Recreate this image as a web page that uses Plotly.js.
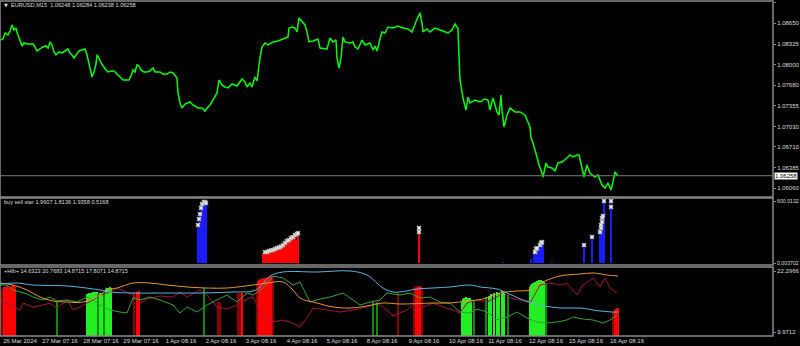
<!DOCTYPE html>
<html><head><meta charset="utf-8">
<script src="https://cdn.plot.ly/plotly-3.0.1.min.js"></script>
<style>html,body{margin:0;padding:0;background:#000;}#chart{width:800px;height:346px;}</style>
</head><body><div id="chart"></div>
<script>
// ---------- main price (EURUSD M15, close line) ----------
const priceX = [0,3,5,8,10,12,14,16,17,19,21,22,24,27,30,33,35,37,40,43,46,48,50,52,54,56,59,62,65,68,70,72,74,76,79,82,85,87,89,91,92,94,96,97,99,101,103,106,108,111,114,117,120,123,126,129,131,133,135,137,139,141,144,147,150,153,155,158,
160,163,167,170,173,177,178,180,182,185,190,193,198,202,205,208,210,213,217,219,222,225,228,232,237,242,245,247,250,252,255,257,258,260,262,265,268,273,278,283,288,289,292,295,297,299,302,305,307,309,313,318,320,
327,330,333,336,337,339,341,343,345,350,353,355,358,362,365,370,373,375,377,380,382,385,388,393,398,403,408,412,415,417,420,422,423,427,430,435,440,445,448,452,455,457,
458,459,460,462,463,466,468,470,475,480,485,488,490,493,497,499,501,502,504,507,510,515,520,525,527,530,531,533,537,539,542,543,546,548,552,555,558,562,567,570,573,577,579,582,584,587,590,595,598,602,605,608,611,613,615,617,618];
const price = [1.08389,1.08405,1.08499,1.08468,1.08530,1.08625,1.08546,1.08577,1.08515,1.08420,1.08326,1.08295,1.08342,1.08326,1.08326,1.08326,1.08279,1.08216,1.08248,1.08279,1.08295,1.08263,1.08358,1.08311,1.08201,1.08154,1.08201,1.08185,1.08216,1.08248,1.08185,1.08154,1.08106,1.08154,1.08216,1.08232,1.08248,1.08154,1.08012,1.07918,1.07808,1.07887,1.08012,1.08154,1.08106,1.08028,1.07981,1.07918,1.07887,1.07902,1.07902,1.07855,1.07792,1.07761,1.07761,1.07761,1.07824,1.07918,1.07887,1.07997,1.07981,1.07918,1.07887,1.07887,1.07902,1.07949,1.07887,1.07887,
1.07887,1.07855,1.07855,1.07887,1.07871,1.07792,1.07557,1.07400,1.07321,1.07384,1.07416,1.07369,1.07321,1.07321,1.07274,1.07337,1.07369,1.07447,1.07557,1.07761,1.07683,1.07651,1.07635,1.07698,1.07667,1.07777,1.07730,1.07651,1.07714,1.07651,1.07808,1.07745,1.07887,1.08106,1.08279,1.08342,1.08311,1.08358,1.08373,1.08405,1.08436,1.08577,1.08593,1.08577,1.08515,1.08734,1.08672,1.08625,1.08515,1.08358,1.08373,1.08405,1.08263,
1.08248,1.08420,1.08358,1.08389,1.08106,1.07949,1.08106,1.08436,1.08358,1.08342,1.08358,1.08279,1.08248,1.08389,1.08311,1.08342,1.08232,1.08295,1.08216,1.08405,1.08515,1.08499,1.08593,1.08577,1.08609,1.08577,1.08562,1.08515,1.08656,1.08719,1.08813,1.08656,1.08515,1.08562,1.08515,1.08577,1.08546,1.08515,1.08499,1.08546,1.08640,1.08593,
1.08577,1.08122,1.07761,1.07573,1.07478,1.07290,1.07494,1.07400,1.07447,1.07416,1.07463,1.07447,1.07290,1.07478,1.07259,1.07212,1.07526,1.07290,1.07023,1.07212,1.07321,1.07259,1.07259,1.07212,1.07133,1.07023,1.06850,1.06772,1.06552,1.06427,1.06301,1.06238,1.06458,1.06395,1.06379,1.06332,1.06458,1.06474,1.06536,1.06584,1.06552,1.06584,1.06584,1.06395,1.06238,1.06427,1.06301,1.06238,1.06270,1.06113,1.06065,1.06144,1.06034,1.06160,1.06317,1.06270,1.06258];
const priceTicks = [1.08975,1.08650,1.08325,1.08000,1.07680,1.07355,1.07030,1.06710,1.06385,1.06060];
const priceTickText = ["1.08975","1.08650","1.08325","1.08000","1.07680","1.07355","1.07030","1.06710","1.06385","1.06060"];
const headerText = "EURUSD,M15  1.06248 1.06284 1.06238 1.06258";

// ---------- sub window 1: buy sell star ----------
const starBlueX = [198,199,200,201,202,204,205,206,503,531,534,535,536,537,539,540,541,542,543,552,584,592,600,601,602,603,604,611];
const starBlueVal = [368,436,484,542,581,590,590,590,10,39,126,116,126,136,184,194,194,194,194,10,174,252,300,358,416,455,600,600];
const starRedX = [263,265,267,269,271,273,275,277,279,281,283,285,287,289,291,293,295,297,298,419];
const starRedVal = [97,106,106,116,116,126,136,145,155,165,184,194,213,232,242,261,281,223,290,339];
const starMarkX = [198,199,200,201,202,204,205,206,265,267,269,271,273,275,277,279,281,283,285,287,289,291,293,295,297,298,419,419,535,536,537,540,541,542,584,592,600,601,601,602,602,603,604,611,611];
const starMarkVal = [368,426,474,533,571,590,590,580,106,106,116,121,126,136,145,150,160,174,194,213,223,242,252,271,281,290,339,300,106,136,145,174,194,203,174,252,300,339,368,397,436,455,600,600,542];
const starTitle = "buy sell star 1.9607 1.8136 1.9358 0.5168";
const starTicks = [600.0132, 0];
const starTickText = ["600.0132", "0.003702"];

// ---------- sub window 2: +Hlb+ ----------
const histRedX = [3,4,5,6,7,8,9,10,11,12,13,14,15,137,138,139,242,258,259,260,261,262,263,264,265,266,267,268,269,270,271,272,415,416,418,419,420,421,615,616,617,618];
const histRedVal = [18.66,19.07,18.86,19.07,19.27,19.07,18.86,18.86,19.07,19.27,19.47,19.27,19.07,18.06,18.06,18.26,17.85,20.28,20.48,20.48,20.68,20.68,20.68,20.88,20.88,20.68,20.88,21.09,21.09,21.29,21.09,21.29,18.86,19.07,19.07,19.27,19.07,19.07,14.42,14.62,14.82,14.82];
const histDarkRedX = [2,134,218,220,238,240,257,273,398,414,422,613];
const histDarkRedVal = [18.46,18.06,16.03,16.03,17.85,17.85,19.87,21.09,17.85,18.86,18.66,14.01];
const histGreenX = [87,88,89,90,91,92,93,94,95,96,97,100,101,102,103,106,107,108,109,110,111,462,463,464,465,466,467,468,469,470,471,489,491,494,497,499,502,504,530,531,532,533,534,535,536,537,538,539,540,541,542,543,544,545];
const histGreenVal = [17.65,17.65,17.85,17.85,17.85,17.85,18.06,18.06,18.06,18.06,18.06,17.85,17.85,17.85,17.85,18.66,18.86,18.86,18.86,19.07,18.86,16.03,16.64,16.84,16.84,17.04,16.84,16.84,16.64,16.84,16.44,17.25,17.65,17.85,18.06,17.85,18.26,18.06,19.07,19.47,19.67,19.87,19.87,20.08,20.08,20.28,20.28,20.48,20.48,20.48,20.28,20.28,20.08,19.87];
const histDarkGreenX = [57,98,104,204,373,377,474,486,508,546];
const histDarkGreenVal = [16.03,17.65,17.85,18.86,16.03,16.03,16.44,17.04,17.45,19.67];

const blueLineX = [0,17,33,67,100,110,133,167,200,233,253,260,270,283,317,350,367,383,393,400,417,433,450,470,480,497,507,523,540,560,580,600,613,618];
const blueLineVal = [19.67,19.87,19.47,19.27,18.46,18.06,17.85,17.85,17.85,18.06,18.26,19.07,21.29,22.10,22.10,22.30,21.49,18.86,18.06,18.06,18.66,18.86,19.07,19.47,19.07,18.66,17.85,16.44,15.43,14.82,14.82,14.22,14.01,14.01];
const orangeLineX = [0,13,27,40,53,67,83,100,107,117,133,150,167,187,207,227,253,267,283,293,300,317,333,350,367,383,400,433,450,467,483,500,517,530,543,560,580,593,607,618];
const orangeLineVal = [19.87,19.47,18.46,17.04,16.24,16.03,16.03,17.45,18.46,18.86,19.87,19.87,19.47,19.07,18.86,18.86,19.47,19.87,20.08,18.46,16.84,15.83,15.02,14.82,15.23,15.83,15.63,15.83,15.83,16.24,16.64,17.85,18.26,18.46,20.08,21.29,21.69,21.90,21.49,21.29];
const plusLineX = [0,7,13,20,27,33,43,50,57,67,77,87,93,100,110,120,127,133,140,150,160,173,180,187,197,207,217,227,237,247,253,263,273,283,293,300,310,320,330,343,353,360,370,380,387,400,410,420,430,440,450,460,470,477,487,497,507,517,527,537,547,557,567,573,583,593,603,610,617];
const plusLineVal = [19.47,19.47,18.46,18.06,17.65,17.04,16.44,17.04,16.24,16.44,16.03,17.04,16.44,15.43,14.42,14.01,13.81,16.84,16.44,17.04,16.44,15.43,13.81,15.02,14.01,15.43,16.44,17.45,16.03,17.85,17.45,18.86,21.29,20.88,19.47,20.08,16.03,16.64,17.04,17.85,16.44,15.43,16.03,16.44,17.85,17.45,17.85,16.84,17.04,16.03,15.83,14.01,13.81,14.62,14.01,12.40,13.00,14.01,12.80,11.99,11.79,11.99,12.40,13.00,12.60,12.40,11.79,12.40,13.41];
const minusLineX = [0,10,20,23,33,43,50,57,67,73,80,87,93,100,110,117,127,133,140,147,160,173,180,187,200,207,217,227,237,247,253,263,273,283,293,300,307,313,327,340,353,367,377,387,393,400,407,413,423,433,443,453,460,467,477,487,497,503,510,520,530,540,550,560,567,577,583,593,600,605,610,617];
const minusLineVal = [16.44,15.43,14.42,15.83,15.02,15.43,15.83,14.82,16.44,14.42,15.02,15.83,16.44,17.45,18.06,18.86,18.06,17.45,15.83,16.64,17.25,17.04,18.06,17.04,18.46,17.45,15.02,14.62,15.43,16.64,17.04,13.00,11.99,12.40,11.79,10.98,12.80,14.82,14.42,14.01,14.42,15.02,15.83,14.42,13.20,13.81,14.42,15.43,15.02,15.83,15.02,14.42,13.81,15.83,16.44,16.03,17.04,18.06,16.84,16.44,15.83,19.47,19.87,19.47,19.87,17.45,19.47,20.88,19.07,20.88,18.86,17.85];
const hlbTitle = "+Hlb+ 14.6323 20.7683 14.8715 17.8071 14.8715";
const hlbTicks = [22.2966, 9.9712];
const hlbTickText = ["22.2966", "9.9712"];

// ---------- time axis ----------
const timeTickPos = [20,60,101,141,181,221,261,302,342,382,424,466,505,546,586,627];
const timeTickText = ["26 Mar 2024","27 Mar 07:16","28 Mar 07:16","29 Mar 07:16","1 Apr 08:16","2 Apr 08:16","3 Apr 08:16","4 Apr 08:16","5 Apr 08:16","8 Apr 08:16","9 Apr 08:16","10 Apr 08:16","11 Apr 08:16","12 Apr 08:16","15 Apr 08:16","16 Apr 08:16"];

// ---------- build ----------
const FONT = "Liberation Sans, Arial, sans-serif";
const FS = 6;       // axis labels
const FT = 5.6;     // window titles
const TXT = "#dcdcdc";
const FRAME = "#8a8a8a";
const W = 800, H = 346;
const px = v => v / W;
const py = v => 1 - v / H;
const hlbBase = 9.163;
const lastPrice = price[price.length - 1];

function bars(x, y, color, yaxis, width, base) {
  const t = {type: "bar", x: x, y: y, yaxis: yaxis, width: width,
    marker: {color: color, line: {width: 0}}, hoverinfo: "skip"};
  if (base !== undefined) { t.base = base; t.y = y.map(v => v - base); }
  return t;
}
function line(x, y, color, yaxis, w, shape) {
  return {type: "scatter", mode: "lines", x: x, y: y, yaxis: yaxis,
    line: {color: color, width: w, shape: shape || "linear"}, hoverinfo: "skip"};
}

const traces = [
  line(priceX, price, "#00ff00", "y", 1.5),
  bars(starBlueX, starBlueVal, "#1a1aff", "y2", 1.5),
  bars(starRedX, starRedVal, "#ff0000", "y2", 1.5),
  {type: "scatter", mode: "markers", x: starMarkX, y: starMarkVal, yaxis: "y2",
   marker: {symbol: "x", size: 4, color: "#f0f0f0", line: {width: 0.5, color: "#9a9a9a"}}, hoverinfo: "skip"},
  bars(histRedX, histRedVal, "#ff0000", "y3", 1.05, hlbBase),
  bars(histDarkRedX, histDarkRedVal, "#8b0000", "y3", 1.05, hlbBase),
  bars(histGreenX, histGreenVal, "#22ee22", "y3", 1.05, hlbBase),
  bars(histDarkGreenX, histDarkGreenVal, "#0a8a0a", "y3", 1.05, hlbBase),
  line(minusLineX, minusLineVal, "#a8103c", "y3", 1),
  line(plusLineX, plusLineVal, "#2fa82f", "y3", 1),
  line(orangeLineX, orangeLineVal, "#e8952c", "y3", 1, "spline"),
  line(blueLineX, blueLineVal, "#5ab4e6", "y3", 1, "spline")
];

const yBase = {side: "right", anchor: "x", showgrid: false, zeroline: false,
  ticks: "outside", ticklen: 2, tickcolor: FRAME, tickfont: {family: FONT, size: FS, color: TXT},
  showline: false, fixedrange: true, tickmode: "array"};

const layout = {
  width: W, height: H,
  paper_bgcolor: "#000", plot_bgcolor: "#000",
  margin: {l: 0, r: 0, t: 0, b: 0},
  showlegend: false, barmode: "overlay", bargap: 0,
  xaxis: {domain: [0, px(773)], range: [0, 773], anchor: "y3", showgrid: false, zeroline: false,
    tickmode: "array", tickvals: timeTickPos, ticktext: timeTickText, ticks: "", tickangle: 0,
    tickfont: {family: FONT, size: FS, color: TXT}, showline: false, fixedrange: true},
  yaxis: Object.assign({}, yBase, {domain: [py(197), py(1)], range: [1.05924, 1.09001],
    tickvals: priceTicks, ticktext: priceTickText}),
  yaxis2: Object.assign({}, yBase, {domain: [py(265), py(198)], range: [-19.4, 629],
    tickvals: starTicks, ticktext: starTickText, tickfont: {family: FONT, size: 5.2, color: TXT}}),
  yaxis3: Object.assign({}, yBase, {domain: [py(336), py(267)], range: [9.163, 23.108],
    tickvals: hlbTicks, ticktext: hlbTickText}),
  shapes: [
    {type: "rect", xref: "x domain", yref: "y domain", x0: 0, x1: 1, y0: 0, y1: 1, line: {color: FRAME, width: 1.5}},
    {type: "rect", xref: "x domain", yref: "y2 domain", x0: 0, x1: 1, y0: 0, y1: 1, line: {color: FRAME, width: 1.5}},
    {type: "rect", xref: "x domain", yref: "y3 domain", x0: 0, x1: 1, y0: 0, y1: 1, line: {color: FRAME, width: 1.5}},
    {type: "line", xref: "x domain", yref: "y", x0: 0, x1: 1, y0: lastPrice, y1: lastPrice, line: {color: "#7a7a7a", width: 1}}
  ],
  annotations: [
    {xref: "paper", yref: "paper", x: px(2), y: py(5), xanchor: "left", yanchor: "middle", showarrow: false,
     text: "▼", font: {family: "DejaVu Sans", size: 5, color: TXT}},
    {xref: "paper", yref: "paper", x: px(9), y: py(5), xanchor: "left", yanchor: "middle", showarrow: false,
     text: headerText, font: {family: FONT, size: FT, color: TXT}},
    {xref: "paper", yref: "paper", x: px(2), y: py(202), xanchor: "left", yanchor: "middle", showarrow: false,
     text: starTitle, font: {family: FONT, size: FT, color: TXT}},
    {xref: "paper", yref: "paper", x: px(2), y: py(271), xanchor: "left", yanchor: "middle", showarrow: false,
     text: hlbTitle, font: {family: FONT, size: FT, color: TXT}},
    {xref: "paper", yref: "y", x: px(774), y: lastPrice, xanchor: "left", yanchor: "middle", showarrow: false,
     text: lastPrice.toFixed(5), bgcolor: "#ffffff", borderpad: 0, font: {family: FONT, size: FS, color: "#000"}}
  ]
};

Plotly.newPlot("chart", traces, layout, {staticPlot: true, displayModeBar: false});
</script>
</body></html>
